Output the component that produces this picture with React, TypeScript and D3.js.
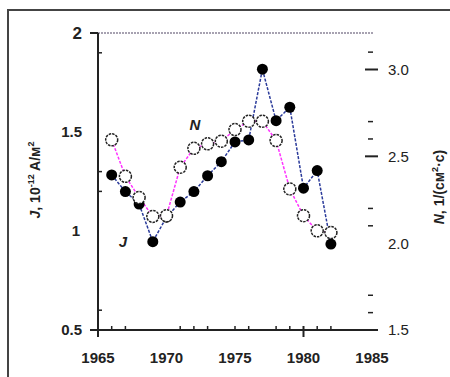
import React from "react";
import * as d3 from "d3";

const years = [1966, 1967, 1968, 1969, 1970, 1971, 1972, 1973, 1974, 1975, 1976, 1977, 1978, 1979, 1980, 1981, 1982];
const jValues = [1.283, 1.199, 1.136, 0.946, 1.07, 1.146, 1.199, 1.279, 1.35, 1.45, 1.46, 1.817, 1.557, 1.625, 1.216, 1.305, 0.934];
const nValues = [2.595, 2.385, 2.263, 2.154, 2.158, 2.437, 2.546, 2.572, 2.587, 2.654, 2.702, 2.702, 2.591, 2.312, 2.158, 2.071, 2.061];

const xTickLabels = [1965, 1970, 1975, 1980, 1985];
const xMinorTicks = [1966, 1967, 1971, 1972, 1973, 1975, 1976, 1978, 1979, 1981, 1982];
const jTickLabels = [2, 1.5, 1, 0.5];
const jMinorTicks = [1.9, 1.3, 1.2, 0.6];
const nTickLabels = [3.0, 2.5, 2.0, 1.5];
const nMajorTicks = [3.0, 2.5];
const nMinorTicks = [3.1, 2.7, 2.6, 2.2, 2.1, 1.7, 1.6];

export default function App() {
  const x = d3.scaleLinear().domain([1965, 1985]).range([98, 372]);
  const yJ = d3.scaleLinear().domain([0.5, 2]).range([330, 33]);
  const yN = d3.scaleLinear().domain([1.5, 3.0]).range([330, 69.5]);

  const jLine = d3.line<number>().x((_, i) => x(years[i])).y((d) => yJ(d));
  const nLine = d3.line<number>().x((_, i) => x(years[i])).y((d) => yN(d));

  const font = "Arial, 'Liberation Sans', sans-serif";
  const textColor = "#222";

  return (
    <svg
      width={450}
      height={377}
      style={{ position: "absolute", left: 0, top: 0, background: "#fff" }}
      fontFamily={font}
    >
      {/* outer frame */}
      <rect x={8} y={10} width={460} height={380} fill="none" stroke="#444" strokeWidth={2} />

      {/* top dotted line at J = 2 */}
      <line x1={92} x2={373} y1={yJ(2)} y2={yJ(2)} stroke="#8a8498" strokeWidth={1.6} strokeDasharray="2,1" />

      {/* left axis */}
      <line x1={98} x2={98} y1={yJ(2)} y2={337} stroke="#222" strokeWidth={2} />
      {jTickLabels.filter((v) => v === 2 || v === 0.5).map((v) => (
        <line key={"jt" + v} x1={90} x2={98} y1={yJ(v)} y2={yJ(v)} stroke="#222" strokeWidth={2} />
      ))}
      {jMinorTicks.map((v) => (
        <line key={"jm" + v} x1={98} x2={102} y1={yJ(v)} y2={yJ(v)} stroke="#222" strokeWidth={1.5} />
      ))}
      {jTickLabels.map((v) => (
        <text
          key={"jl" + v}
          x={v === 1 ? 80 : 82}
          y={yJ(v)}
          dy="0.35em"
          textAnchor="end"
          fontSize={v === 2 ? 17 : 15}
          fontWeight="bold"
          fill={textColor}
        >
          {String(v)}
        </text>
      ))}

      {/* bottom axis */}
      <line x1={92} x2={378} y1={330} y2={330} stroke="#222" strokeWidth={2} />
      {xMinorTicks.map((v) => (
        <line key={"xm" + v} x1={x(v)} x2={x(v)} y1={326} y2={330} stroke="#222" strokeWidth={1.5} />
      ))}
      <line x1={x(1980)} x2={x(1980)} y1={326} y2={337} stroke="#222" strokeWidth={2} />
      {xTickLabels.map((v) => (
        <text
          key={"xl" + v}
          x={x(v)}
          y={358}
          dy="0.35em"
          textAnchor="middle"
          fontSize={15}
          fontWeight="bold"
          fill={textColor}
        >
          {v}
        </text>
      ))}

      {/* right axis (ticks only) */}
      {nMajorTicks.map((v) => (
        <line key={"nt" + v} x1={365} x2={378} y1={yN(v)} y2={yN(v)} stroke="#222" strokeWidth={2} />
      ))}
      {nMinorTicks.map((v) => (
        <line key={"nm" + v} x1={368} x2={373} y1={yN(v)} y2={yN(v)} stroke="#222" strokeWidth={1.5} />
      ))}
      {nTickLabels.map((v) => (
        <text
          key={"nl" + v}
          x={388}
          y={yN(v) + (v === 2.0 ? 1 : 0)}
          dy="0.35em"
          textAnchor="start"
          fontSize={15}
          fill={textColor}
        >
          {v.toFixed(1)}
        </text>
      ))}

      {/* axis titles */}
      <text
        transform="translate(40,180) rotate(-90)"
        textAnchor="middle"
        fontSize={14}
        fontWeight="bold"
        fill={textColor}
      >
        <tspan fontStyle="italic">J</tspan>
        <tspan>, 10</tspan>
        <tspan fontSize={9} dy={-6}>-12</tspan>
        <tspan dy={6}> A/м</tspan>
        <tspan fontSize={9} dy={-6}>2</tspan>
      </text>
      <text
        transform="translate(444,187) rotate(-90)"
        textAnchor="middle"
        fontSize={14}
        fontWeight="bold"
        fill={textColor}
      >
        <tspan fontStyle="italic">N</tspan>
        <tspan>, 1/(см</tspan>
        <tspan fontSize={9} dy={-6}>2</tspan>
        <tspan dy={6}>·c)</tspan>
      </text>

      {/* series lines */}
      <path d={jLine(jValues) || ""} fill="none" stroke="#2a3a9a" strokeWidth={1.5} strokeDasharray="3,1.5" />
      <path d={nLine(nValues) || ""} fill="none" stroke="#ff33ff" strokeWidth={1.5} strokeDasharray="3,1.5" />

      {/* J markers (filled) */}
      {jValues.map((v, i) => (
        <circle key={"jp" + i} cx={x(years[i])} cy={yJ(v)} r={5.5} fill="#000" />
      ))}
      {/* N markers (open) */}
      {nValues.map((v, i) => (
        <circle
          key={"np" + i}
          cx={x(years[i])}
          cy={yN(v)}
          r={6}
          fill="#fff"
          stroke="#222"
          strokeWidth={1.5}
          strokeDasharray="2.5,1"
        />
      ))}

      {/* series labels */}
      <text x={195} y={125} dy="0.35em" textAnchor="middle" fontSize={15} fontWeight="bold" fontStyle="italic" fill={textColor}>
        N
      </text>
      <text x={123} y={242} dy="0.35em" textAnchor="middle" fontSize={15} fontWeight="bold" fontStyle="italic" fill={textColor}>
        J
      </text>
    </svg>
  );
}
